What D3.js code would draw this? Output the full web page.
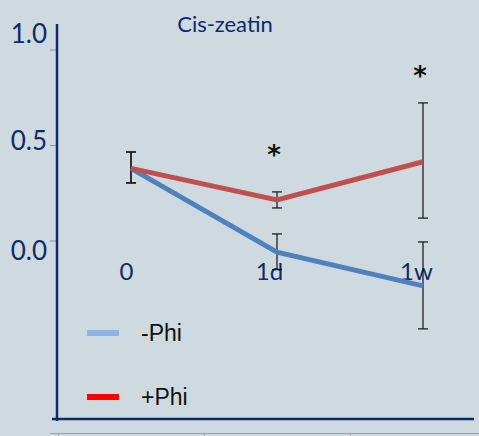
<!DOCTYPE html>
<html>
<head>
<meta charset="utf-8">
<script src="https://cdn.jsdelivr.net/npm/d3@7"></script>
<style>
  body { margin: 0; background: #cfdae0; }
  svg { display: block; }
</style>
</head>
<body>
<div id="chart"></div>
<script>
var categories = ["0", "1d", "1w"];
var minusPhi = [0.38, -0.058, -0.235];
var minusPhiLow = [0.304, -0.15, -0.46];
var minusPhiHigh = [0.466, 0.037, -0.005];
var plusPhi = [0.38, 0.215, 0.415];
var plusPhiLow = [0.304, 0.173, 0.12];
var plusPhiHigh = [0.466, 0.257, 0.723];
var stars = ["", "*", "*"];
var starLevel = [null, 0.471, 0.885];
var yTicks = [0.0, 0.5, 1.0];
var legendLabels = ["-Phi", "+Phi"];

var width = 479, height = 436;
var svg = d3.select("#chart").append("svg")
    .attr("width", width)
    .attr("height", height);

svg.append("rect").attr("width", width).attr("height", height).attr("fill", "#cfdae0");

var xScale = d3.scalePoint()
    .domain(categories)
    .range([131, 423]);

var yScale = d3.scaleLinear()
    .domain([0, 1])
    .range([241, 50]);

var navyFont = "Lato, 'Open Sans', sans-serif";

// title
svg.append("text")
   .attr("x", 225).attr("y", 32)
   .attr("text-anchor", "middle")
   .style("font-family", navyFont)
   .style("font-size", "22px")
   .style("fill", "#0f2a6b")
   .text("Cis-zeatin");

// y ticks
svg.selectAll(".ytick")
   .data(yTicks)
   .enter().append("line")
   .attr("x1", 50).attr("x2", 56)
   .attr("y1", d => yScale(d)).attr("y2", d => yScale(d))
   .style("stroke", "#8a9098").style("stroke-width", 1);

// labels sit a little off their ticks in the original
var labelShift = {0: 19, 0.5: 4, 1: -7};
svg.selectAll(".ylab")
   .data(yTicks)
   .enter().append("text")
   .attr("x", 47)
   .attr("y", d => yScale(d) + labelShift[d])
   .attr("text-anchor", "end")
   .style("font-family", navyFont)
   .style("font-size", "26px")
   .style("fill", "#0f2a6b")
   .text(d => d3.format(".1f")(d));

// axis lines
svg.append("line")
   .attr("x1", 57).attr("x2", 57).attr("y1", 24).attr("y2", 421)
   .style("stroke", "#0d2a6b").style("stroke-width", 2.5);
svg.append("line")
   .attr("x1", 52).attr("x2", 474).attr("y1", 419).attr("y2", 419)
   .style("stroke", "#0d2a6b").style("stroke-width", 2.5);

// lower grey axis
svg.append("line")
   .attr("x1", 50).attr("x2", 479).attr("y1", 433.5).attr("y2", 433.5)
   .style("stroke", "#9aa0a6").style("stroke-width", 1);
svg.selectAll(".btick")
   .data([58, 204, 350])
   .enter().append("line")
   .attr("x1", d => d + 0.5).attr("x2", d => d + 0.5)
   .attr("y1", 433).attr("y2", 436)
   .style("stroke", "#9aa0a6").style("stroke-width", 1);

// x labels
var xShift = {"0": -4.5, "1d": -7.5, "1w": -6.5};
svg.selectAll(".xlab")
   .data(categories)
   .enter().append("text")
   .attr("x", d => xScale(d) + xShift[d])
   .attr("y", 280)
   .attr("text-anchor", "middle")
   .style("font-family", navyFont)
   .style("font-size", "24px")
   .style("fill", "#0f2a6b")
   .text(d => d);

var line = d3.line()
    .x((d, i) => xScale(categories[i]))
    .y(d => yScale(d));

// error bars
function errorBars(low, high) {
  categories.forEach(function(c, i) {
    var x = xScale(c);
    svg.append("line")
       .attr("x1", x).attr("x2", x)
       .attr("y1", yScale(low[i])).attr("y2", yScale(high[i]))
       .style("stroke", "#111").style("stroke-width", 1.2);
    [low[i], high[i]].forEach(function(v) {
      svg.append("line")
         .attr("x1", x - 5).attr("x2", x + 5)
         .attr("y1", yScale(v)).attr("y2", yScale(v))
         .style("stroke", "#111").style("stroke-width", 1.2);
    });
  });
}
errorBars(minusPhiLow, minusPhiHigh);
errorBars(plusPhiLow, plusPhiHigh);

svg.append("path")
   .datum(minusPhi)
   .attr("d", line)
   .style("fill", "none")
   .style("stroke", "#4f81bd")
   .style("stroke-width", 5);

svg.append("path")
   .datum(plusPhi)
   .attr("d", line)
   .style("fill", "none")
   .style("stroke", "#c0504d")
   .style("stroke-width", 5);

// significance stars
svg.selectAll(".star")
   .data(categories.filter((d, i) => stars[i]))
   .enter().append("text")
   .attr("x", d => xScale(d) - 3)
   .attr("y", d => yScale(starLevel[categories.indexOf(d)]) + 13)
   .attr("text-anchor", "middle")
   .style("font-family", "'DejaVu Sans', sans-serif")
   .style("font-size", "26px")
   .style("font-weight", "bold")
   .style("fill", "#111")
   .text(d => stars[categories.indexOf(d)]);

// legend
var legendColors = ["#8db4e2", "#ff0000"];
var legend = svg.selectAll(".legend")
   .data(legendLabels)
   .enter().append("g")
   .attr("transform", (d, i) => "translate(87," + (333 + i * 64) + ")");
legend.append("line")
   .attr("x1", 0).attr("x2", 32)
   .style("stroke", (d, i) => legendColors[i])
   .style("stroke-width", 6);
legend.append("text")
   .attr("x", 54).attr("y", 8)
   .style("font-family", "'Liberation Sans Narrow', 'Liberation Sans', sans-serif")
   .style("font-size", "23px")
   .style("fill", "#111")
   .text(d => d);
</script>
</body>
</html>
